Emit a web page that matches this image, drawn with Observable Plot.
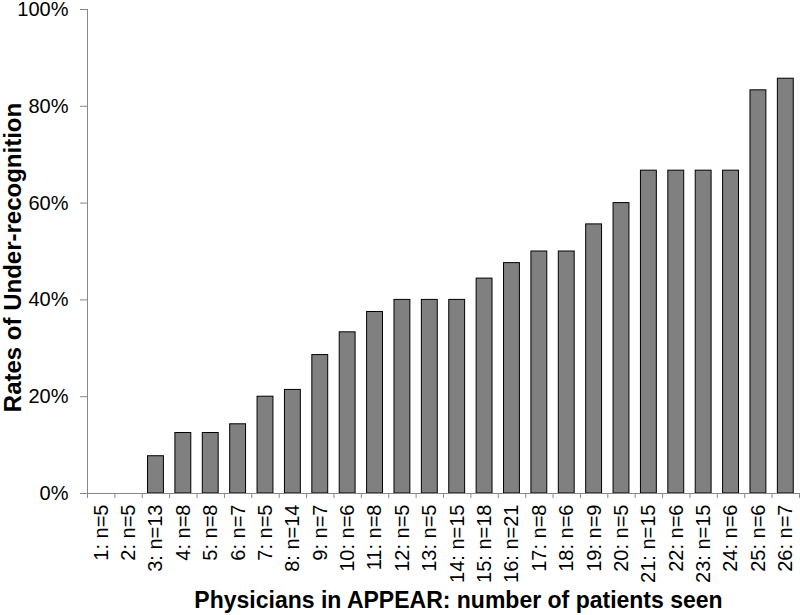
<!DOCTYPE html>
<html><head><meta charset="utf-8">
<script src="https://cdn.jsdelivr.net/npm/d3@7"></script>
<script src="https://cdn.jsdelivr.net/npm/@observablehq/plot@0.6"></script>
<style>
body{margin:0;background:#fff}
svg{font-family:"Liberation Sans",Arial,sans-serif}
</style>
</head><body><div id="chart"></div>
<script>
const physicians = [1,2,3,4,5,6,7,8,9,10,11,12,13,14,15,16,17,18,19,20,21,22,23,24,25,26];
const patients = [5,5,13,8,8,7,5,14,7,6,8,5,5,15,18,21,8,6,9,5,15,6,15,6,6,7];
const rates = [0,0,0.077,0.125,0.125,0.143,0.20,0.214,0.286,0.333,0.375,0.40,0.40,0.40,0.444,0.476,0.50,0.50,0.556,0.60,0.667,0.667,0.667,0.667,0.833,0.857];
const yTicks = [0,0.2,0.4,0.6,0.8,1];
const xTitle = "Physicians in APPEAR: number of patients seen";
const yTitle = "Rates of Under-recognition";

const data = physicians.map((id,i)=>({id, n: patients[i], rate: rates[i], label: `${id}: n=${patients[i]}`}));
const boundaries = [0, ...physicians].map(d => d + 0.5);
const half = 0.29;

const chart = Plot.plot({
  width: 800, height: 615,
  marginLeft: 87, marginRight: 1, marginTop: 9, marginBottom: 122,
  style: {fontFamily: '"Liberation Sans", Arial, sans-serif', fontSize: "20px", color: "#000", background: "#fff"},
  x: {type: "linear", domain: [0.5, physicians.length + 0.5]},
  y: {domain: [0, 1]},
  marks: [
    Plot.rectY(data, {x1: d => d.id - half, x2: d => d.id + half, y1: 0, y2: "rate", fill: "#808080", stroke: "#000", strokeWidth: 1}),
    Plot.ruleX([0.5], {stroke: "#888"}),
    Plot.ruleY([0], {stroke: "#888"}),
    Plot.axisY(yTicks, {tickFormat: d3.format(".0%"), tickSize: 7, tickPadding: 12, stroke: "#888", fontSize: 20, label: null}),
    Plot.axisX(boundaries, {tickSize: 5, tickFormat: () => "", stroke: "#888", label: null}),
    Plot.axisX(physicians, {tickSize: 0, tickPadding: 11, tickRotate: -90, textAnchor: "end", fontSize: 20, tickFormat: i => data[i-1].label, label: null}),
    Plot.text([yTitle], {frameAnchor: "left", textAnchor: "middle", rotate: -90, dx: -74, dy: 6, fontSize: 24, fontWeight: "bold"}),
    Plot.text([xTitle], {frameAnchor: "bottom", textAnchor: "middle", dx: 15, dy: 114, fontSize: 23, fontWeight: "bold"})
  ]
});
document.getElementById("chart").appendChild(chart);
</script>
</body></html>
